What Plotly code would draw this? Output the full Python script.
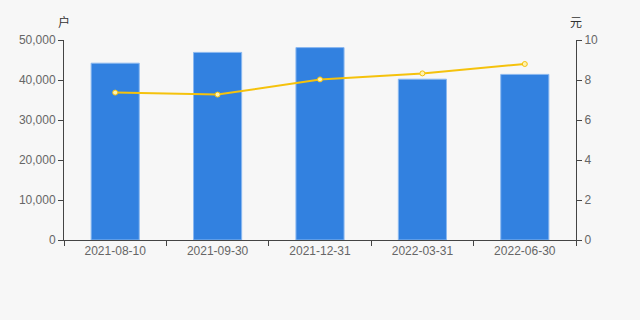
import plotly.graph_objects as go

categories = ["2021-08-10", "2021-09-30", "2021-12-31", "2022-03-31", "2022-06-30"]
holders = [44200, 46900, 48100, 40200, 41400]
price = [7.37, 7.27, 8.03, 8.33, 8.8]
left_ticks = [0, 10000, 20000, 30000, 40000, 50000]
left_labels = ["0", "10,000", "20,000", "30,000", "40,000", "50,000"]
right_ticks = [0, 2, 4, 6, 8, 10]

fig = go.Figure()
fig.add_trace(go.Bar(
    x=categories, y=holders, width=0.47,
    marker=dict(color="#3281e0", line=dict(color="#8ab8f0", width=1)),
    yaxis="y", showlegend=False, hoverinfo="skip"))
fig.add_trace(go.Scatter(
    x=categories, y=price, mode="lines+markers",
    line=dict(color="#f5c20c", width=2),
    marker=dict(size=5, color="#fff2b0", line=dict(color="#f5c20c", width=1)),
    yaxis="y2", showlegend=False, hoverinfo="skip"))

axis_font = dict(family="Liberation Sans, Arial, sans-serif", size=12, color="#666666")
fig.update_layout(
    width=640, height=320,
    margin=dict(l=64, r=64, t=40, b=80),
    paper_bgcolor="#f7f7f7", plot_bgcolor="#f7f7f7",
    bargap=0.53,
    xaxis=dict(type="category", showline=True, linecolor="#444444", linewidth=1,
               ticks="outside", ticklen=5, tickcolor="#444444", tickson="boundaries",
               showgrid=False, tickfont=axis_font, zeroline=False),
    yaxis=dict(range=[0, 50000], tickvals=left_ticks, ticktext=left_labels,
               showline=True, linecolor="#444444", linewidth=1,
               ticks="outside", ticklen=5, tickcolor="#444444",
               showgrid=False, zeroline=False, tickfont=axis_font),
    yaxis2=dict(range=[0, 10], tickvals=right_ticks, overlaying="y", side="right",
                showline=True, linecolor="#444444", linewidth=1,
                ticks="outside", ticklen=5, tickcolor="#444444",
                showgrid=False, zeroline=False, tickfont=axis_font),
    annotations=[
        dict(text="户", x=0, y=1, xref="paper", yref="paper", xanchor="center",
             yanchor="bottom", yshift=8, showarrow=False,
             font=dict(family="Noto Sans CJK SC", size=12, color="#333333")),
        dict(text="元", x=1, y=1, xref="paper", yref="paper", xanchor="center",
             yanchor="bottom", yshift=8, showarrow=False,
             font=dict(family="Noto Sans CJK SC", size=12, color="#333333")),
    ],
)
fig.write_html("out.html")
